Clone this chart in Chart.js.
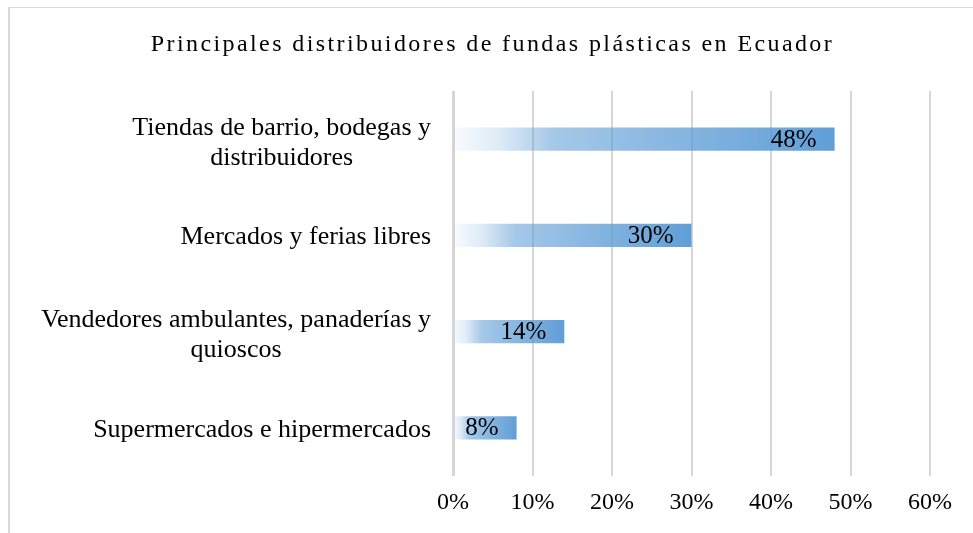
<!DOCTYPE html>
<html>
<head>
<meta charset="utf-8">
<script src="https://cdn.jsdelivr.net/npm/chart.js@4/dist/chart.umd.min.js"></script>
<style>
  html, body { margin: 0; padding: 0; background: #ffffff; }
  #wrap { position: relative; width: 973px; height: 533px; }
  #frame { position: absolute; left: 8px; top: 7px; right: -5px; bottom: -5px;
           border-left: 2px solid #dadada; border-top: 1px solid #dadada; pointer-events: none; }
  canvas { position: absolute; left: 0; top: 0; }
</style>
</head>
<body>
<div id="wrap">
  <canvas id="c" width="973" height="533"></canvas>
  <div id="frame"></div>
</div>
<script>
// ---- data ----
const chartTitle = 'Principales distribuidores de fundas plásticas en Ecuador';
const categories = [
  ['Tiendas de barrio, bodegas y', 'distribuidores'],
  ['Mercados y ferias libres'],
  ['Vendedores ambulantes, panaderías y', 'quioscos'],
  ['Supermercados e hipermercados']
];
const shares = [48, 30, 14, 8];
const xTickValues = [0, 10, 20, 30, 40, 50, 60];
const xTickLabels = ['0%', '10%', '20%', '30%', '40%', '50%', '60%'];
const valueLabels = ['48%', '30%', '14%', '8%'];

const SERIF = "'Liberation Serif', 'Times New Roman', serif";

function barGradient(c) {
  const chart = c.chart;
  if (!chart.chartArea || c.raw === undefined) return 'rgba(91,155,213,0.9)';
  const xs = chart.scales.x;
  const x0 = xs.getPixelForValue(0);
  const x1 = xs.getPixelForValue(c.raw);
  const g = chart.ctx.createLinearGradient(x0, 0, x1, 0);
  g.addColorStop(0, 'rgba(91,155,213,0.04)');
  g.addColorStop(0.12, 'rgba(91,155,213,0.2)');
  g.addColorStop(0.26, 'rgba(91,155,213,0.55)');
  g.addColorStop(1, 'rgba(91,155,213,0.97)');
  return g;
}

const titlePlugin = {
  id: 'spacedTitle',
  afterDraw(chart) {
    const ctx = chart.ctx;
    ctx.save();
    ctx.font = '24px ' + SERIF;
    ctx.letterSpacing = '2.4px';
    ctx.fillStyle = '#000';
    ctx.textAlign = 'center';
    ctx.textBaseline = 'middle';
    ctx.fillText(chartTitle, chart.width / 2 + 6, 45);
    ctx.restore();
  }
};

const catLabelPlugin = {
  id: 'catLabels',
  afterDraw(chart) {
    const ctx = chart.ctx;
    const ys = chart.scales.y;
    ctx.save();
    ctx.font = '26px ' + SERIF;
    ctx.fillStyle = '#000';
    ctx.textAlign = 'center';
    ctx.textBaseline = 'middle';
    const right = ys.right - 22;
    const lh = 30;
    categories.forEach((lines, i) => {
      const y = ys.getPixelForTick(i) + (lines.length > 1 ? 4 : 2);
      const w = Math.max(...lines.map(l => ctx.measureText(l).width));
      const cx = right - w / 2;
      const top = y - (lines.length - 1) * lh / 2;
      lines.forEach((l, j) => ctx.fillText(l, cx, top + j * lh));
    });
    ctx.restore();
  }
};

const valueLabelPlugin = {
  id: 'valueLabels',
  afterDatasetsDraw(chart) {
    const ctx = chart.ctx;
    const meta = chart.getDatasetMeta(0);
    ctx.save();
    ctx.font = '25px ' + SERIF;
    ctx.fillStyle = '#000';
    ctx.textAlign = 'right';
    ctx.textBaseline = 'middle';
    meta.data.forEach((bar, i) => {
      ctx.fillText(valueLabels[i], bar.x - 18, bar.y + 1);
    });
    ctx.restore();
  }
};

new Chart(document.getElementById('c'), {
  type: 'bar',
  data: {
    labels: categories,
    datasets: [{
      data: shares,
      backgroundColor: barGradient,
      borderWidth: 0,
      barPercentage: 0.24,
      categoryPercentage: 1
    }]
  },
  options: {
    indexAxis: 'y',
    responsive: false,
    animation: false,
    events: [],
    layout: { padding: { top: 91, right: 43, bottom: 0, left: 0 } },
    plugins: { legend: { display: false }, title: { display: false }, tooltip: { enabled: false } },
    scales: {
      x: {
        min: xTickValues[0],
        max: xTickValues[xTickValues.length - 1],
        afterBuildTicks: s => { s.ticks = xTickValues.map(v => ({ value: v })); },
        afterFit: s => { s.height = 57; },
        ticks: {
          callback: (v, i) => xTickLabels[i],
          font: { family: SERIF, size: 24 },
          color: '#000',
          padding: 12,
          maxRotation: 0
        },
        grid: {
          drawTicks: false,
          color: '#d6d6d6',
          lineWidth: c => c.index === 0 ? 3 : 2
        },
        border: { display: false }
      },
      y: {
        ticks: { display: false },
        grid: { display: false },
        border: { display: false },
        afterFit: s => { s.width = 453; }
      }
    }
  },
  plugins: [titlePlugin, catLabelPlugin, valueLabelPlugin]
});
</script>
</body>
</html>
